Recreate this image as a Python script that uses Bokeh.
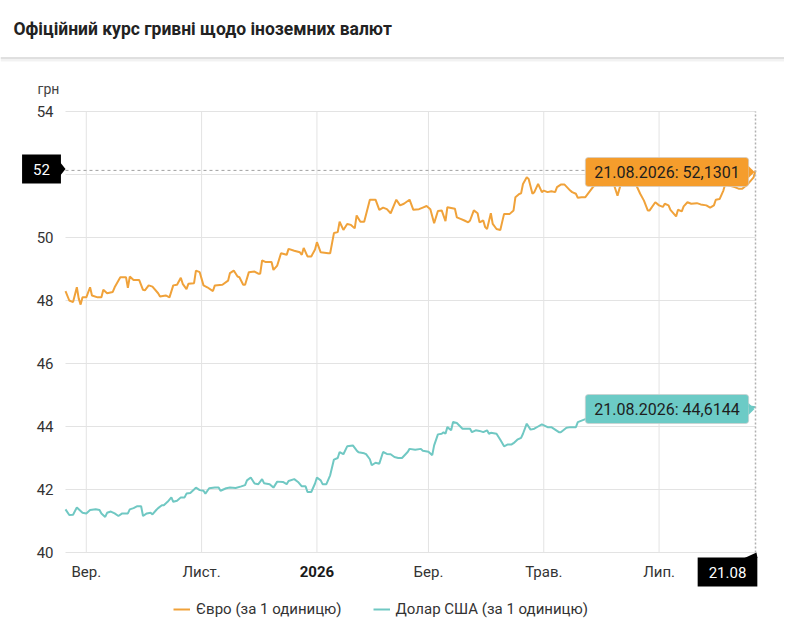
import pandas as pd
from bokeh.core.properties import value
from bokeh.embed import file_html
from bokeh.models import ColumnDataSource, Label, PolyAnnotation, Range1d, Span
from bokeh.plotting import figure
from bokeh.resources import INLINE

TITLE = "Офіційний курс гривні щодо іноземних валют"
UNIT = "грн"
START = "2025-08-21"
END = "2026-08-21"

# day offsets from START and the official rate (UAH per 1 unit)
eur_day = [0, 2, 4, 6, 7, 8, 9, 11, 13, 14, 17, 19, 20, 22, 25, 26, 29, 32, 33, 34,
           36, 39, 41, 42, 44, 46, 49, 50, 53, 55, 57, 59, 61, 62, 64, 65, 68, 69, 71, 73,
           75, 78, 79, 83, 86, 87, 89, 91, 92, 94, 95, 97, 100, 102, 103, 104, 106, 109, 110, 112,
           114, 117, 118, 121, 124, 125, 126, 128, 130, 132, 133, 135, 139, 140, 142, 144, 145, 147, 149, 151,
           153, 154, 156, 158, 161, 164, 166, 168, 170, 172, 175, 177, 179, 182, 184, 187, 189, 191, 193, 195,
           197, 199, 201, 202, 206, 207, 209, 211, 213, 214, 216, 218, 219, 221, 222, 223, 225, 226, 228, 230,
           232, 235, 237, 238, 240, 241, 242, 244, 245, 247, 248, 250, 252, 253, 255, 257, 259, 260, 262, 264,
           267, 268, 270, 271, 273, 275, 277, 279, 282, 284, 287, 290, 292, 294, 297, 300, 302, 304, 306, 308,
           309, 312, 314, 316, 317, 319, 320, 323, 324, 326, 327, 329, 331, 334, 336, 339, 341, 343, 344, 346,
           348, 349, 351, 354, 356, 358, 361, 364, 365]
eur_val = [48.30, 48.00, 47.95, 48.42, 48.06, 47.87, 48.10, 48.10, 48.42, 48.16, 48.10, 48.10, 48.34, 48.23, 48.27, 48.42, 48.74, 48.74, 48.40, 48.76,
           48.65, 48.65, 48.34, 48.32, 48.48, 48.44, 48.23, 48.13, 48.16, 48.10, 48.48, 48.50, 48.72, 48.53, 48.36, 48.53, 48.55, 48.95, 48.90, 48.48,
           48.42, 48.30, 48.48, 48.50, 48.63, 48.87, 48.95, 48.76, 48.74, 48.50, 48.50, 48.90, 48.92, 48.85, 48.85, 49.27, 49.22, 49.22, 48.97, 49.11,
           49.50, 49.45, 49.64, 49.58, 49.53, 49.45, 49.67, 49.40, 49.40, 49.62, 49.85, 49.53, 49.50, 49.50, 50.14, 50.17, 50.50, 50.24, 50.43, 50.40,
           50.29, 50.70, 50.50, 50.50, 51.20, 51.20, 50.88, 50.95, 50.90, 50.77, 51.20, 51.02, 51.07, 51.20, 50.88, 50.90, 50.95, 51.00, 50.90, 50.45,
           50.84, 50.86, 50.52, 50.96, 50.91, 50.64, 50.59, 50.54, 50.48, 50.54, 50.86, 50.77, 50.48, 50.54, 50.33, 50.27, 50.77, 50.43, 50.27, 50.24,
           50.75, 50.75, 50.86, 51.28, 51.38, 51.40, 51.70, 51.91, 51.86, 51.39, 51.44, 51.70, 51.44, 51.49, 51.44, 51.47, 51.44, 51.60, 51.68, 51.68,
           51.49, 51.44, 51.39, 51.26, 51.28, 51.28, 51.44, 51.60, 51.75, 51.65, 51.85, 51.70, 51.33, 51.75, 51.85, 51.70, 51.65, 51.39, 51.17, 50.86,
           50.86, 51.12, 51.02, 50.97, 51.07, 51.02, 50.88, 50.67, 50.88, 50.83, 50.99, 51.12, 51.07, 51.09, 51.05, 51.02, 50.95, 51.02, 51.20, 51.22,
           51.49, 51.70, 51.65, 51.60, 51.55, 51.55, 51.70, 51.91, 52.1301]

usd_day = [0, 2, 4, 6, 9, 11, 13, 16, 18, 19, 21, 22, 24, 26, 28, 30, 33, 34, 36, 38,
           40, 41, 43, 45, 46, 48, 49, 51, 52, 54, 56, 57, 59, 61, 63, 64, 66, 68, 69, 71,
           73, 74, 76, 79, 81, 82, 85, 87, 90, 93, 95, 96, 98, 100, 102, 104, 105, 108, 110, 112,
           115, 117, 118, 121, 123, 125, 127, 128, 130, 132, 133, 135, 136, 138, 140, 142, 144, 145, 147, 149,
           152, 154, 155, 158, 159, 161, 162, 164, 166, 168, 170, 172, 174, 176, 178, 181, 182, 185, 188, 189,
           192, 194, 195, 197, 199, 200, 201, 202, 204, 205, 207, 210, 212, 214, 215, 217, 219, 221, 223, 224,
           225, 228, 230, 232, 234, 236, 237, 239, 241, 242, 244, 246, 248, 250, 252, 255, 257, 259, 261, 262,
           265, 267, 270, 271, 274, 278, 282, 286, 290, 295, 300, 305, 310, 315, 320, 325, 330, 335, 340, 345,
           350, 355, 360, 365]
usd_val = [41.37, 41.19, 41.20, 41.43, 41.26, 41.24, 41.35, 41.37, 41.35, 41.24, 41.13, 41.26, 41.30, 41.24, 41.16, 41.24, 41.24, 41.37, 41.41, 41.47,
           41.47, 41.16, 41.24, 41.26, 41.21, 41.35, 41.41, 41.50, 41.50, 41.61, 41.75, 41.61, 41.64, 41.75, 41.75, 41.87, 41.89, 42.00, 42.06, 41.98,
           41.96, 41.87, 42.04, 42.06, 42.06, 41.96, 42.04, 42.06, 42.05, 42.10, 42.14, 42.29, 42.38, 42.19, 42.17, 42.33, 42.20, 42.17, 42.06, 42.25,
           42.24, 42.17, 42.27, 42.33, 42.24, 42.10, 42.10, 41.92, 41.92, 42.19, 42.38, 42.29, 42.17, 42.17, 42.45, 42.95, 43.00, 43.19, 43.12, 43.37,
           43.40, 43.24, 43.18, 43.15, 43.12, 42.96, 42.77, 42.85, 42.82, 43.19, 43.13, 43.12, 43.03, 43.00, 43.00, 43.19, 43.29, 43.26, 43.29, 43.23,
           43.20, 43.09, 43.40, 43.75, 43.77, 43.82, 43.77, 43.98, 43.88, 44.14, 44.11, 43.93, 43.93, 43.93, 43.82, 43.88, 43.86, 43.82, 43.88, 43.77,
           43.80, 43.77, 43.58, 43.37, 43.43, 43.43, 43.47, 43.58, 43.64, 43.77, 44.09, 43.90, 43.93, 44.00, 44.07, 43.98, 43.98, 43.90, 43.82, 43.82,
           43.96, 43.98, 43.98, 44.14, 44.21, 44.30, 44.25, 44.40, 44.35, 44.50, 44.30, 44.45, 44.60, 44.40, 44.50, 44.70, 44.55, 44.45, 44.60, 44.70,
           44.50, 44.55, 44.65, 44.6144]

month_ticks = ["2025-09-01", "2025-11-01", "2026-01-01", "2026-03-01", "2026-05-01", "2026-07-01"]
month_labels = ["Вер.", "Лист.", "2026", "Бер.", "Трав.", "Лип."]
y_ticks = [40, 42, 44, 46, 48, 50, 52, 54]
eur_name = "Євро (за 1 одиницю)"
usd_name = "Долар США (за 1 одиницю)"

EUR_LINE = "#F0A23A"
USD_LINE = "#70C8C3"
EUR_TIP = "#F59D2C"
USD_TIP = "#6CCBC6"
GRID = "#e3e3e3"
FONT = "Roboto"

# page layout in pixels (top-left origin): plot area inside the canvas
W, H = 784, 626
PL, PR, PT, PB = 65, 755, 111, 552


def sy(py):
    # screen units of annotations are measured from the bottom
    return H - py


def tip_text(day, v):
    return day.strftime("%d.%m.%Y") + ": " + f"{v:.4f}".replace(".", ",")


start = pd.Timestamp(START)
end = pd.Timestamp(END)
eur_x = start + pd.to_timedelta(eur_day, unit="D")
usd_x = start + pd.to_timedelta(usd_day, unit="D")
ticks_x = [pd.Timestamp(d) for d in month_ticks]

dpp = (end - start) / (PR - PL)
upp = (y_ticks[-1] - y_ticks[0]) / (PB - PT)
p = figure(width=W, height=H,
           x_range=Range1d(start - PL * dpp, end + (W - PR) * dpp),
           y_range=Range1d(y_ticks[0] - (H - PB) * upp, y_ticks[-1] + PT * upp),
           x_axis_location=None, y_axis_location=None, min_border=0,
           output_backend="svg", toolbar_location=None)
p.grid.visible = False
p.outline_line_color = None

# header
p.add_layout(Label(x=13, y=sy(28), x_units="screen", y_units="screen", text=TITLE,
                   text_font=FONT, text_font_size="17.5px", text_font_style="bold",
                   text_color="#222222", text_baseline="middle"))
p.add_layout(Span(location=sy(59.5), location_units="screen", dimension="width",
                  line_color="#000000", line_alpha=0.05, line_width=3))
p.add_layout(Span(location=sy(57.5), location_units="screen", dimension="width",
                  line_color="#d6d6d6", line_width=1.5))

# grid
n = len(y_ticks)
p.segment(x0=[start] * n, x1=[end] * n, y0=y_ticks, y1=y_ticks, line_color=GRID, line_width=1)
m = len(ticks_x)
p.segment(x0=ticks_x, x1=ticks_x, y0=[y_ticks[0]] * m, y1=[y_ticks[-1]] * m,
          line_color=GRID, line_width=1)

# tick labels
p.text(x=[start] * n, y=y_ticks, text=[str(t) for t in y_ticks], x_offset=-12,
       text_align="right", text_baseline="middle", text_font=value(FONT),
       text_font_size="15px", text_color="#333333")
xlab = ColumnDataSource(dict(
    x=ticks_x, y=[y_ticks[0]] * m, text=month_labels,
    style=["bold" if lab.isdigit() else "normal" for lab in month_labels],
    color=["#1a1a1a" if lab.isdigit() else "#333333" for lab in month_labels]))
p.text(x="x", y="y", text="text", source=xlab, y_offset=19, text_align="center",
       text_baseline="middle", text_font=value(FONT), text_font_size="15px",
       text_font_style="style", text_color="color")
p.add_layout(Label(x=37, y=sy(88), x_units="screen", y_units="screen", text=UNIT,
                   text_font=FONT, text_font_size="14px", text_color="#444444",
                   text_baseline="middle"))

# series
p.line(eur_x, eur_val, color=EUR_LINE, line_width=2, legend_label=eur_name)
p.line(usd_x, usd_val, color=USD_LINE, line_width=2, legend_label=usd_name)

# crosshair at the last date
p.line([start, end], [eur_val[-1]] * 2, line_color="#a0a0a0", line_dash="3 3", line_width=1)
p.line([end, end], [y_ticks[0], y_ticks[-1]], line_color="#b0b0b0", line_dash="2 2", line_width=1.5)

# black badges on the axes
badge = dict(text_font=FONT, text_font_size="15px", text_color="white", text_align="center",
             text_baseline="middle", background_fill_color="black",
             padding=dict(left=11, right=11, top=9, bottom=9))
p.add_layout(Label(x=41, y=sy(168.5), x_units="screen", y_units="screen",
                   text=str(round(eur_val[-1])), **badge))
p.add_layout(PolyAnnotation(xs=[59, 59, 65], ys=[sy(161), sy(176), sy(168.5)],
                            xs_units="screen", ys_units="screen", fill_color="black",
                            fill_alpha=1, line_color=None))
p.add_layout(Label(x=727, y=sy(571.5), x_units="screen", y_units="screen",
                   text=end.strftime("%d.%m"), **badge))
p.add_layout(PolyAnnotation(xs=[744, 756, 757], ys=[sy(557.5), sy(552), sy(557.5)],
                            xs_units="screen", ys_units="screen", fill_color="black",
                            fill_alpha=1, line_color=None))

# pinned tooltips
for py, txt, col in ((171.5, tip_text(end, eur_val[-1]), EUR_TIP),
                     (408.5, tip_text(end, usd_val[-1]), USD_TIP)):
    p.add_layout(Label(x=666.5, y=sy(py), x_units="screen", y_units="screen", text=txt,
                       text_color="#1e1e1e", text_align="center", text_baseline="middle",
                       text_font=FONT, text_font_size="16px",
                       background_fill_color=col, border_line_color="#cfcfcf", border_line_alpha=0.7,
                       border_radius=3, padding=dict(left=9, right=9, top=5, bottom=5)))
    p.add_layout(PolyAnnotation(xs=[748, 748, 754], ys=[sy(py - 6), sy(py + 6), sy(py)],
                                xs_units="screen", ys_units="screen", fill_color=col,
                                fill_alpha=1, line_color=None))

leg = p.legend[0]
leg.location = (173, sy(619))
leg.orientation = "horizontal"
leg.padding = 0
leg.margin = 0
leg.spacing = 31
leg.glyph_width = 17
leg.glyph_height = 20
leg.label_height = 20
leg.label_standoff = 6
leg.label_text_font = FONT
leg.label_text_font_size = "15px"
leg.label_text_color = "#333333"
leg.border_line_color = None
leg.background_fill_color = None

open("out.html", "w").write(file_html(p, INLINE))
